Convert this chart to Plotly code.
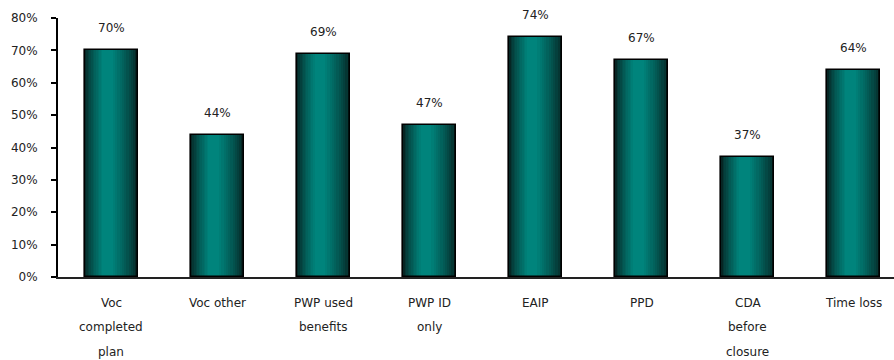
import plotly.graph_objects as go

# Share of cases per outcome group
categories = [
    "Voc\ncompleted\nplan",
    "Voc other",
    "PWP used\nbenefits",
    "PWP ID\nonly",
    "EAIP",
    "PPD",
    "CDA\nbefore\nclosure",
    "Time loss",
]
values = [70, 44, 69, 47, 74, 67, 37, 64]
value_labels = ["70%", "44%", "69%", "47%", "74%", "67%", "37%", "64%"]
y_ticks = [0, 10, 20, 30, 40, 50, 60, 70, 80]
y_tick_labels = ["0%", "10%", "20%", "30%", "40%", "50%", "60%", "70%", "80%"]

FONT = "DejaVu Sans"
BAR_W = 0.5
DARK = (6, 38, 36)
LIGHT = (0, 132, 124)
PEAK = 0.42  # position of the brightest band across the bar
N_BANDS = 12

x = list(range(len(categories)))
fig = go.Figure()

# Cylinder shading: nested bands, dark outside, bright toward the peak
for k in range(N_BANDS):
    f = k / (N_BANDS - 1)
    left = PEAK * f * 0.8
    right = 1 - (1 - PEAK) * f * 0.8
    t = f ** 0.75
    col = tuple(round(DARK[i] + (LIGHT[i] - DARK[i]) * t) for i in range(3))
    w = BAR_W * (right - left)
    fig.add_trace(go.Bar(
        x=x, y=values,
        width=[w] * len(x),
        offset=[-BAR_W / 2 + BAR_W * left] * len(x),
        marker=dict(color="rgb(%d,%d,%d)" % col, line=dict(width=0)),
        hoverinfo="skip", showlegend=False,
    ))

# Outline of each bar
fig.add_trace(go.Bar(
    x=x, y=values, width=[BAR_W] * len(x),
    offset=[-BAR_W / 2] * len(x),
    marker=dict(color="rgba(0,0,0,0)", line=dict(color="#000000", width=1.6)),
    hoverinfo="skip", showlegend=False,
))

annotations = []
for xi, v, lab in zip(x, values, value_labels):
    annotations.append(dict(
        x=xi, y=v, xref="x", yref="y", text=lab, showarrow=False,
        yshift=22, yanchor="middle", xanchor="center",
        font=dict(family=FONT, size=12, color="#222222"),
    ))

line_shifts = [-26, -50, -75]
for xi, cat in zip(x, categories):
    for j, line in enumerate(cat.split("\n")):
        annotations.append(dict(
            x=xi, y=0, xref="x", yref="paper", text=line, showarrow=False,
            yshift=line_shifts[j], yanchor="middle", xanchor="center",
            font=dict(family=FONT, size=12, color="#222222"),
        ))

fig.update_layout(
    width=894, height=360,
    margin=dict(l=58, r=0, t=18, b=83),
    paper_bgcolor="white", plot_bgcolor="white",
    barmode="overlay", bargap=0,
    annotations=annotations,
    xaxis=dict(
        range=[-0.5, 7.378], showticklabels=False, ticks="",
        showgrid=False, zeroline=False,
        showline=True, linecolor="#222222", linewidth=1.5,
        fixedrange=True,
    ),
    yaxis=dict(
        range=[0, 80], tickvals=y_ticks, ticktext=y_tick_labels,
        ticks="outside", ticklen=5, tickwidth=1.5, tickcolor="#000000",
        ticklabelstandoff=11,
        showline=True, linecolor="#000000", linewidth=2,
        showgrid=False, zeroline=False,
        tickfont=dict(family=FONT, size=12, color="#222222"),
        fixedrange=True,
    ),
)

fig.write_html("out.html")
